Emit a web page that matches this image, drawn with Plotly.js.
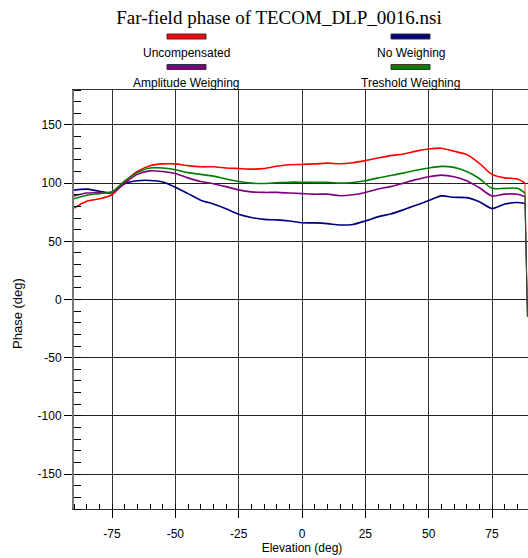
<!DOCTYPE html>
<html>
<head>
<meta charset="utf-8">
<script src="https://cdn.plot.ly/plotly-3.0.1.min.js"></script>
<style>
html, body { margin: 0; padding: 0; overflow: hidden; background: #fff; width: 528px; height: 558px; }
#chart { width: 532px; height: 558px; }
</style>
</head>
<body>
<div id="chart"></div>
<script>
// ---- data ----
const elevation = [-90,-85,-80,-75,-70,-65,-60,-55,-50,-45,-40,-35,-30,-25,-20,-15,-10,-5,0,5,10,15,20,25,30,35,40,45,50,55,60,65,70,75,80,85,88];
const uncompensated = [78.5,84.5,86.5,90,101,110,115,116.5,116.5,115,114,114,113,112.5,112,112.5,114.5,115.8,116,116.5,117.2,116.6,117.5,119.3,121.5,123.6,125,127.5,129.3,130,127.3,124.5,117,107.5,104.5,103.5,100];
const noWeighing = [94,94.8,93,92,99.5,102,102.3,101,96.5,91,85.3,82,78,73.3,70.5,68.8,68.4,67.5,66,65.8,65.2,64,64.5,67.5,71,73.5,77,81,85,89,87.8,87.5,84,78.2,82,83.3,82.5];
const amplitudeWeighing = [89,91.5,91.8,92,100,107.5,110.5,110,108.3,104.5,101.4,99.5,97,94.2,92.5,92,92,91.5,91,90.5,90.5,89.2,90,92,95,97,100,103,105.5,106.9,105.5,102,96,89,90.5,90.5,88.5];
const tresholdWeighing = [86.5,89.5,91,92.5,102,109,113,113,111.5,109,107.5,106,103.5,101.4,100,99.7,100.3,100.8,100.8,100.6,100.6,100,100.5,102,104.5,106.5,108.6,111,113,114.4,113.5,110,104,95.5,95.5,95.5,91.5];
// last sample at the edge, where every trace drops
const edgeElevation = 89;
const edgeValue = -15;

const seriesNames = ["Uncompensated", "No Weighing", "Amplitude Weighing", "Treshold Weighing"];
const seriesValues = [uncompensated, noWeighing, amplitudeWeighing, tresholdWeighing];
const seriesColors = ["#ff0000", "#000080", "#800080", "#008000"];

const xTickVals = [-75,-50,-25,0,25,50,75];
const yTickVals = [-150,-100,-50,0,50,100,150];

// ---- plot geometry (pixels) ----
const W = 532, H = 558;
const M = {l: 74, r: 2, t: 90, b: 49};
const plotW = W - M.l - M.r, plotH = H - M.t - M.b;
const px2x = p => (p - M.l) / plotW;
const py2y = p => (H - M.b - p) / plotH;

const traces = [];
seriesValues.forEach((vals, i) => {
  traces.push({
    x: elevation, y: vals, type: "scatter", mode: "lines",
    name: seriesNames[i], showlegend: false,
    line: {color: seriesColors[i], width: 1.6, shape: "spline", smoothing: 0.8},
    hoverinfo: "skip"
  });
});
seriesValues.forEach((vals, i) => {
  traces.push({
    x: [elevation[elevation.length - 1], edgeElevation],
    y: [vals[vals.length - 1], edgeValue],
    type: "scatter", mode: "lines", showlegend: false, opacity: 0.8,
    line: {color: seriesColors[i], width: 1}, hoverinfo: "skip"
  });
});

// legend drawn as swatches above labels
const legendPos = [
  {cx: 186.5, sy: 36.5, ty: 53},
  {cx: 410.5, sy: 36.5, ty: 53},
  {cx: 186.5, sy: 67, ty: 83},
  {cx: 410.5, sy: 67, ty: 83}
];
const shapes = [], annotations = [];
legendPos.forEach((p, i) => {
  shapes.push({
    type: "rect", xref: "paper", yref: "paper",
    x0: px2x(p.cx - 19.5), x1: px2x(p.cx + 19.5),
    y0: py2y(p.sy + 2.5), y1: py2y(p.sy - 2.5),
    fillcolor: seriesColors[i], line: {color: "#333", width: 1}
  });
  annotations.push({
    xref: "paper", yref: "paper", x: px2x(p.cx), y: py2y(p.ty),
    xanchor: "center", yanchor: "middle", showarrow: false,
    text: seriesNames[i],
    font: {family: "Liberation Sans, Arial, sans-serif", size: 12, color: "#000"}
  });
});
// y-axis title (placed slightly below the plot middle, as in the reference)
annotations.push({
  xref: "paper", yref: "paper", x: px2x(17), y: py2y(314),
  xanchor: "center", yanchor: "middle", showarrow: false, textangle: -90,
  text: "Phase (deg)",
  font: {family: "Liberation Sans, Arial, sans-serif", size: 13, color: "#000"}
});

const layout = {
  width: W, height: H,
  margin: M,
  paper_bgcolor: "#fff", plot_bgcolor: "#fff",
  showlegend: false,
  font: {family: "Liberation Sans, Arial, sans-serif", size: 12, color: "#000"},
  title: {
    text: "Far-field phase of TECOM_DLP_0016.nsi",
    font: {family: "Liberation Serif, Times New Roman, serif", size: 19, color: "#000"},
    xref: "container", yref: "container",
    x: 279 / W, y: 1 - 17 / H, xanchor: "center", yanchor: "middle"
  },
  xaxis: {
    range: [-90, 90], tickvals: xTickVals, ticktext: xTickVals.map(String),
    ticks: "outside", ticklen: 8, tickcolor: "#000", tickwidth: 1,
    ticklabelstandoff: 6,
    showgrid: true, gridcolor: "#333", gridwidth: 1, zeroline: false,
    showline: true, linecolor: "#333", linewidth: 1, mirror: true,
    minor: {dtick: 5, tick0: 0, ticks: "inside", ticklen: 5, tickcolor: "#000", showgrid: false},
    title: {text: "Elevation (deg)", standoff: 2, font: {size: 12}},
    tickfont: {size: 12}
  },
  yaxis: {
    range: [-180, 180], tickvals: yTickVals, ticktext: yTickVals.map(String),
    ticks: "outside", ticklen: 8, tickcolor: "#000", tickwidth: 1,
    showgrid: true, gridcolor: "#222", gridwidth: 1, zeroline: false,
    showline: true, linecolor: "#777", linewidth: 2, mirror: true,
    minor: {dtick: 10, tick0: 0, ticks: "inside", ticklen: 7, tickcolor: "#000", showgrid: false},
    tickfont: {size: 12}
  },
  shapes: shapes,
  annotations: annotations
};

Plotly.newPlot("chart", traces, layout, {staticPlot: true, displayModeBar: false});
</script>
</body>
</html>
